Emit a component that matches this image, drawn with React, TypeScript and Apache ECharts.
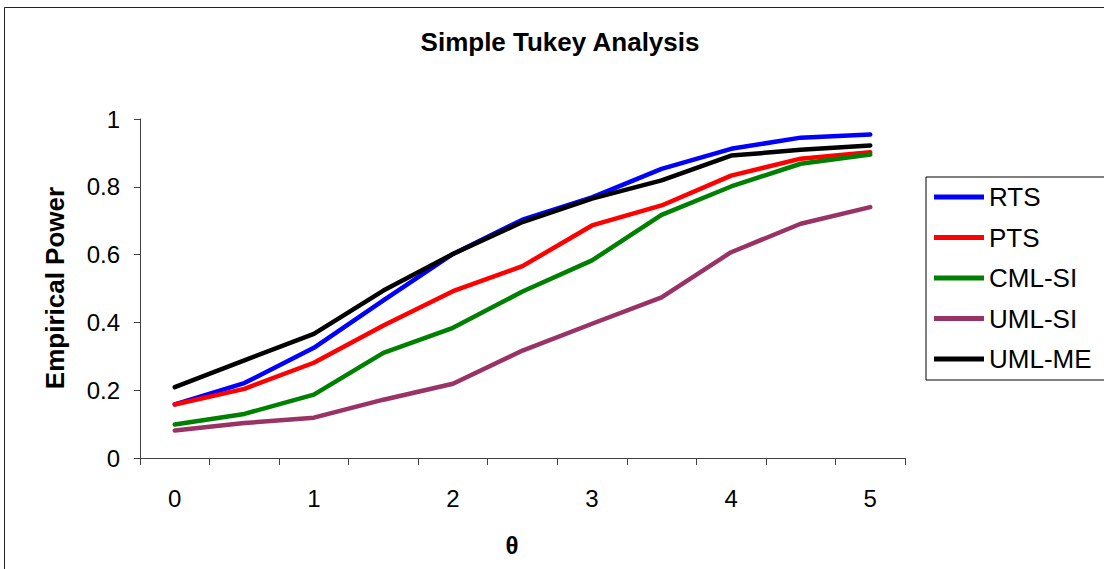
import React, { useEffect, useRef } from "react";
import * as echarts from "echarts";

const thetaLabels = ["0", "0.5", "1", "1.5", "2", "2.5", "3", "3.5", "4", "4.5", "5"];

const rts = [0.158, 0.221, 0.325, 0.465, 0.602, 0.703, 0.769, 0.853, 0.912, 0.945, 0.954];
const pts = [0.158, 0.204, 0.281, 0.391, 0.492, 0.566, 0.686, 0.745, 0.833, 0.883, 0.902];
const cmlSi = [0.099, 0.13, 0.187, 0.31, 0.384, 0.491, 0.583, 0.717, 0.801, 0.868, 0.895];
const umlSi = [0.081, 0.103, 0.119, 0.172, 0.219, 0.317, 0.396, 0.474, 0.607, 0.691, 0.74];
const umlMe = [0.209, 0.288, 0.366, 0.494, 0.602, 0.696, 0.765, 0.819, 0.892, 0.909, 0.922];

const seriesDefs = [
  { name: "RTS", data: rts, color: "#0000FF" },
  { name: "PTS", data: pts, color: "#FF0000" },
  { name: "CML-SI", data: cmlSi, color: "#008000" },
  { name: "UML-SI", data: umlSi, color: "#993366" },
  { name: "UML-ME", data: umlMe, color: "#000000" },
];

const FONT = "'Liberation Sans', Arial, sans-serif";
const AXIS_COLOR = "#404040";

export default function App() {
  const ref = useRef<HTMLDivElement>(null);

  useEffect(() => {
    if (!ref.current) return;
    const chart = echarts.init(ref.current, undefined, { renderer: "svg" });
    chart.setOption({
      animation: false,
      backgroundColor: "#ffffff",
      textStyle: { fontFamily: FONT },
      grid: { left: 140, top: 119, width: 765, height: 339 },
      legend: {
        orient: "vertical",
        left: 926,
        top: 177,
        icon: "rect",
        itemWidth: 50,
        itemHeight: 5,
        itemGap: 12.5,
        padding: [6, 60, 7, 8],
        borderColor: "#000000",
        borderWidth: 1,
        textStyle: { fontSize: 26, color: "#000000", fontFamily: FONT, lineHeight: 28 },
        data: seriesDefs.map((s) => s.name),
      },
      xAxis: {
        type: "category",
        data: thetaLabels,
        boundaryGap: true,
        axisLine: { show: true, lineStyle: { color: AXIS_COLOR, width: 1 } },
        axisTick: { show: true, interval: 0, length: 7, lineStyle: { color: AXIS_COLOR } },
        axisLabel: { interval: 1, fontSize: 24, color: "#000000", margin: 28, fontFamily: FONT },
        splitLine: { show: false },
      },
      yAxis: {
        type: "value",
        min: 0,
        max: 1,
        interval: 0.2,
        axisLine: { show: true, lineStyle: { color: AXIS_COLOR, width: 1 } },
        axisTick: { show: true, length: 6, lineStyle: { color: AXIS_COLOR } },
        axisLabel: { fontSize: 24, color: "#000000", margin: 20, fontFamily: FONT },
        splitLine: { show: false },
      },
      graphic: [
        {
          type: "rect",
          silent: true,
          shape: { x: 4.5, y: 7.5, width: 1200, height: 700 },
          style: { fill: "none", stroke: "#222222", lineWidth: 1 },
        },
        {
          type: "text",
          x: 560,
          y: 42,
          style: {
            text: "Simple Tukey Analysis",
            font: `bold 26px ${FONT}`,
            fill: "#000000",
            textAlign: "center",
            textVerticalAlign: "middle",
          },
        },
        {
          type: "text",
          x: 55,
          y: 288,
          rotation: Math.PI / 2,
          style: {
            text: "Empirical Power",
            font: `bold 26px ${FONT}`,
            fill: "#000000",
            textAlign: "center",
            textVerticalAlign: "middle",
          },
        },
        {
          type: "text",
          x: 512,
          y: 545,
          style: {
            text: "θ",
            font: `bold 24px ${FONT}`,
            fill: "#000000",
            textAlign: "center",
            textVerticalAlign: "middle",
          },
        },
      ],
      series: seriesDefs.map((s) => ({
        name: s.name,
        type: "line",
        data: s.data,
        symbol: "none",
        color: s.color,
        lineStyle: { color: s.color, width: 4.5, cap: "round", join: "round" },
      })),
    });
    return () => chart.dispose();
  }, []);

  return (
    <div
      ref={ref}
      style={{ position: "absolute", left: 0, top: 0, width: 1104, height: 569 }}
    />
  );
}
